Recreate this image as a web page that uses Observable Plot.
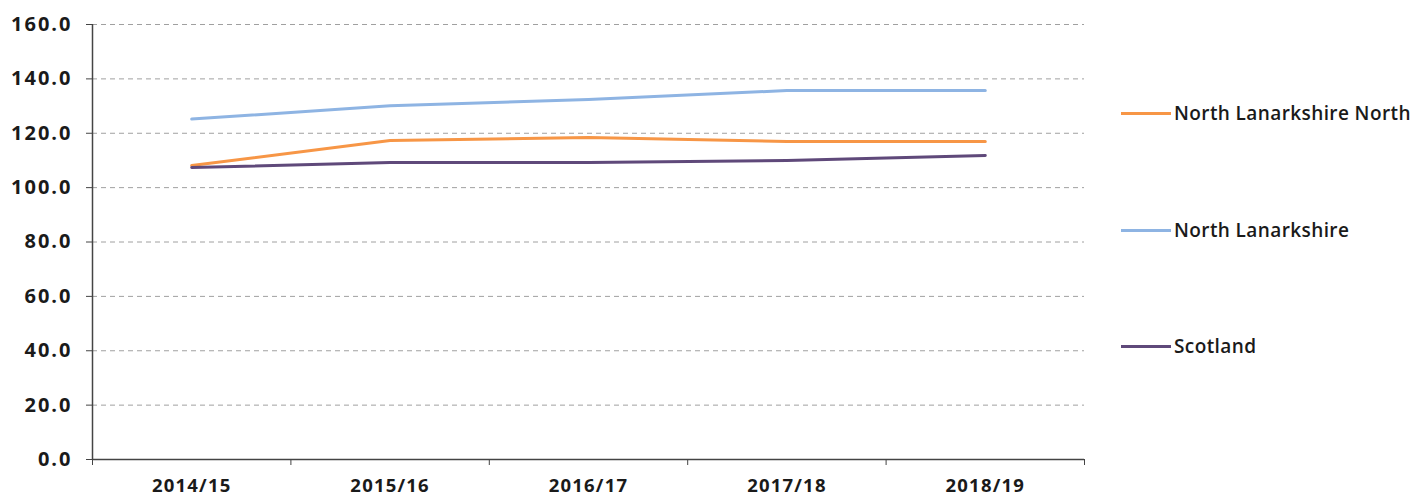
<!DOCTYPE html>
<html><head><meta charset="utf-8">
<script src="https://cdn.jsdelivr.net/npm/d3@7"></script>
<script src="https://cdn.jsdelivr.net/npm/@observablehq/plot@0.6"></script>
<style>
body{margin:0;background:#fff;}
#wrap{position:relative;width:1420px;height:499px;overflow:hidden;}
.leg{position:absolute;left:1121px;height:24px;line-height:24px;display:flex;align-items:center;font:600 19px "Open Sans",sans-serif;letter-spacing:0.4px;color:#1a1a1a;white-space:nowrap;}
.leg .sw{display:inline-block;width:50px;height:3px;margin-right:3px;}
g[aria-label="y-axis tick label"] text{letter-spacing:2px;}
g[aria-label="x-axis tick label"] text{letter-spacing:1.2px;}
</style></head><body><div id="wrap"></div>
<script>
const years = ["2014/15","2015/16","2016/17","2017/18","2018/19"];
const series = ["North Lanarkshire North","North Lanarkshire","Scotland"];
const nlNorth = [108.1,117.3,118.4,117.0,117.0];
const nl = [125.2,130.1,132.4,135.7,135.7];
const scotland = [107.4,109.2,109.2,110.0,111.8];
const colors = ["#F79646","#8EB4E3","#5F497A"];
const yTicks = [0,20,40,60,80,100,120,140,160];
const legendCenters = [113,230,346];

const values = [nlNorth, nl, scotland];
const data = [];
series.forEach((s, k) => years.forEach((y, i) => data.push({series: s, i, year: y, value: values[k][i]})));

const chart = Plot.plot({
  width: 1420,
  height: 499,
  marginLeft: 92,
  marginRight: 336,
  marginTop: 24,
  marginBottom: 40,
  style: {fontFamily: "'Open Sans', sans-serif", fontSize: "20px", color: "#1a1a1a", background: "#fff"},
  x: {domain: [-0.5, years.length - 0.5], label: null},
  y: {domain: [0, 160], label: null},
  color: {domain: series, range: colors},
  marks: [
    Plot.ruleY(yTicks.filter(d => d > 0), {stroke: "#a0a0a0", strokeWidth: 1, strokeDasharray: "5,4"}),
    Plot.axisY({ticks: yTicks, tickFormat: d3.format(".1f"), tickSize: 6, tickPadding: 14, fontSize: 20, fontWeight: 700, stroke: "#444", fill: "#1a1a1a"}),
    Plot.axisX({ticks: d3.range(years.length + 1).map(i => i - 0.5), tickSize: 6, tickFormat: () => "", stroke: "#444"}),
    Plot.axisX({ticks: d3.range(years.length), tickSize: 0, tickPadding: 19, tickFormat: i => years[i], fontSize: 18.5, fontWeight: 700, fill: "#1a1a1a"}),
    Plot.ruleX([-0.5], {stroke: "#444", strokeWidth: 1.5}),
    Plot.ruleY([0], {stroke: "#444", strokeWidth: 1.5}),
    Plot.line(data, {x: "i", y: "value", stroke: "series", strokeWidth: 3})
  ]
});
const wrap = document.getElementById("wrap");
wrap.appendChild(chart);
series.forEach((s, k) => {
  const d = document.createElement("div");
  d.className = "leg";
  d.style.top = (legendCenters[k] - 12) + "px";
  d.innerHTML = `<span class="sw" style="background:${colors[k]}"></span><span>${s}</span>`;
  wrap.appendChild(d);
});
</script>
</body></html>
